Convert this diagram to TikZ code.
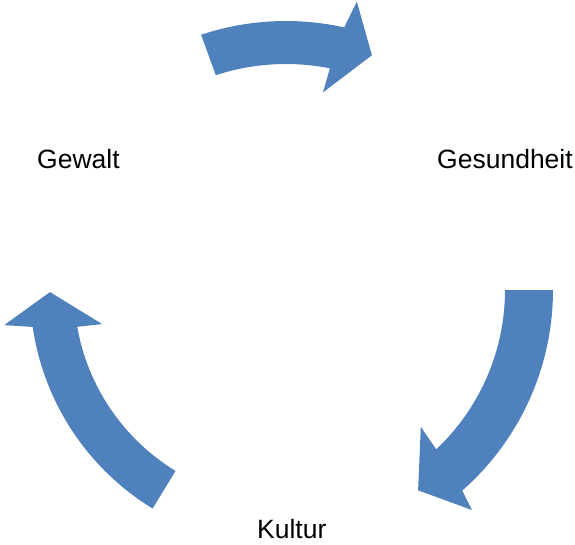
\documentclass[tikz,border=0pt]{standalone}
\usepackage{fontspec}
\setmainfont{Liberation Sans}
\usetikzlibrary{calc}
\definecolor{arrowblue}{HTML}{4F81BD}
\tikzset{
  cyclearrow/.style={fill=arrowblue, draw=none},
  label/.style={inner sep=0pt, anchor=base west, font=\fontsize{26.5}{32}\selectfont}
}
\begin{document}
\begin{tikzpicture}[x=1pt,y=1pt]
\useasboundingbox (0,0) rectangle (575,544);
\coordinate (C) at (286,254);
% top arrow (Gewalt -> Gesundheit)
\fill[cyclearrow] ($(C)+(108.4:269)$) arc[start angle=108.4, end angle=77.5, radius=269]
  -- ($(C)+(76.2:297)$) -- ($(C)+(69.9:250)$) -- ($(C)+(79.4:201)$)
  -- ($(C)+(78.8:226)$) arc[start angle=78.8, end angle=108.1, radius=226] -- cycle;
% right arrow (Gesundheit -> Kultur)
\fill[cyclearrow] ($(C)+(0:267)$) arc[start angle=0, end angle=-48.7, radius=267]
  -- ($(C)+(-49.8:288)$) -- ($(C)+(-56.6:240)$) -- ($(C)+(-45.4:192)$)
  -- ($(C)+(-46.7:219)$) arc[start angle=-46.7, end angle=0, radius=219] -- cycle;
% left arrow (Kultur -> Gewalt)
\fill[cyclearrow] ($(C)+(238.6:256)$) arc[start angle=238.6, end angle=188.3, radius=256]
  -- ($(C)+(187.1:284)$) -- ($(C)+(180.5:236)$) -- ($(C)+(190.5:187)$)
  -- ($(C)+(190:212)$) arc[start angle=190, end angle=238.6, radius=212] -- cycle;
\node[label] (gewalt) at (37,375) {Gewalt};
\node[label] (gesundheit) at (437,375) {Gesundheit};
\node[label] (kultur) at (257,6) {Kultur};
\end{tikzpicture}
\end{document}
